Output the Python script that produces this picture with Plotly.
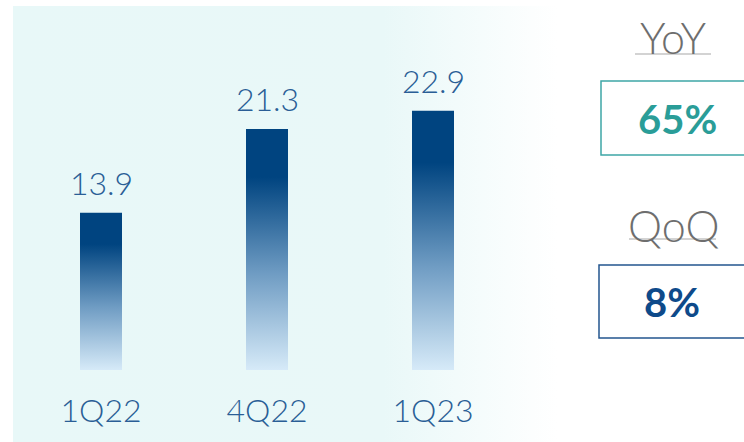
import plotly.graph_objects as go

# ---- data ----
categories = ["1Q22", "4Q22", "1Q23"]
values = [13.9, 21.3, 22.9]
yoy_label = "YoY"
yoy_value = "65%"
qoq_label = "QoQ"
qoq_value = "8%"

W, H = 744, 442
FONT = "Lato"
BLUE_TXT = "#2a5e96"
DARK = "#004480"
LIGHT = "#d6eaf8"

fig = go.Figure()

# background panel on a pixel-mapped full-paper axis (x/y)
fig.add_trace(go.Scatter(
    x=[13, 560, 560, 13, 13], y=[6, 6, 450, 450, 6],
    mode="lines", fill="toself", line=dict(width=0, color="rgba(0,0,0,0)"),
    fillgradient=dict(type="horizontal",
                      colorscale=[[0, "#e8f8f8"], [0.68, "#e9f8f8"], [1, "#ffffff"]],
                      start=13, stop=557),
    hoverinfo="skip", showlegend=False, xaxis="x", yaxis="y"))

# bars drawn as gradient-filled rectangles on the data axes (x2/y2)
half = 0.1265
for i, v in enumerate(values):
    fig.add_trace(go.Scatter(
        x=[i - half, i + half, i + half, i - half, i - half],
        y=[0, 0, v, v, 0],
        mode="lines", fill="toself", line=dict(width=0, color="rgba(0,0,0,0)"),
        fillgradient=dict(type="vertical",
                          colorscale=[[0, LIGHT], [0.4, "#6f9cc3"], [0.8, DARK], [1, DARK]],
                          start=0, stop=v),
        hoverinfo="skip", showlegend=False, xaxis="x2", yaxis="y2"))

annotations = []
for i, v in enumerate(values):
    annotations.append(dict(
        x=i, y=v, xref="x2", yref="y2", text=f"{v:.1f}", showarrow=False,
        yanchor="bottom", yshift=9,
        font=dict(family=FONT, size=32, color=BLUE_TXT, weight=300)))

# right-side KPI panel (pixel coordinates on x/y)
annotations += [
    dict(x=673, y=37, xref="x", yref="y", text=yoy_label, showarrow=False,
         font=dict(family=FONT, size=43, color="#6e6e6e", weight=300)),
    dict(x=677, y=119, xref="x", yref="y", text=yoy_value, showarrow=False,
         font=dict(family=FONT, size=40, color="#2a9d98", weight=700)),
    dict(x=673, y=225, xref="x", yref="y", text=qoq_label, showarrow=False,
         font=dict(family=FONT, size=43, color="#6e6e6e", weight=300)),
    dict(x=672, y=302, xref="x", yref="y", text=qoq_value, showarrow=False,
         font=dict(family=FONT, size=40, color="#0e4a8a", weight=700)),
]

shapes = [
    dict(type="line", xref="x", yref="y", x0=635, x1=711, y0=54, y1=54,
         line=dict(color="#c4c4c4", width=1.5)),
    dict(type="rect", xref="x", yref="y", x0=601, x1=760, y0=81, y1=155,
         line=dict(color="#3ea6a6", width=1.5), fillcolor="white", layer="below"),
    dict(type="line", xref="x", yref="y", x0=629, x1=716, y0=239, y1=239,
         line=dict(color="#c4c4c4", width=1.5)),
    dict(type="rect", xref="x", yref="y", x0=599, x1=760, y0=265, y1=338,
         line=dict(color="#23568f", width=1.5), fillcolor="white", layer="below"),
]

# data axis geometry
x_lo, x_hi = -0.6, 2.6
px_per_cat = 166.0
left_px = 101 - 0.6 * px_per_cat
right_px = 433 + 0.6 * px_per_cat
y_top_val = (370 - 6) / 11.32

fig.update_layout(
    width=W, height=H, margin=dict(l=0, r=0, t=0, b=0),
    paper_bgcolor="white", plot_bgcolor="rgba(0,0,0,0)",
    showlegend=False,
    xaxis=dict(domain=[0, 1], range=[0, W], visible=False, fixedrange=True),
    yaxis=dict(domain=[0, 1], range=[H, 0], visible=False, fixedrange=True),
    xaxis2=dict(domain=[left_px / W, right_px / W], range=[x_lo, x_hi],
                anchor="y2", tickmode="array", tickvals=list(range(len(categories))),
                ticktext=categories, ticks="", showgrid=False, zeroline=False,
                showline=False, ticklabelstandoff=19,
                tickfont=dict(family=FONT, size=32, color=BLUE_TXT, weight=300)),
    yaxis2=dict(domain=[(H - 370) / H, (H - 6) / H], range=[0, y_top_val],
                anchor="x2", visible=False, showgrid=False, zeroline=False),
    annotations=annotations,
    shapes=shapes,
)

fig.write_html("out.html")
